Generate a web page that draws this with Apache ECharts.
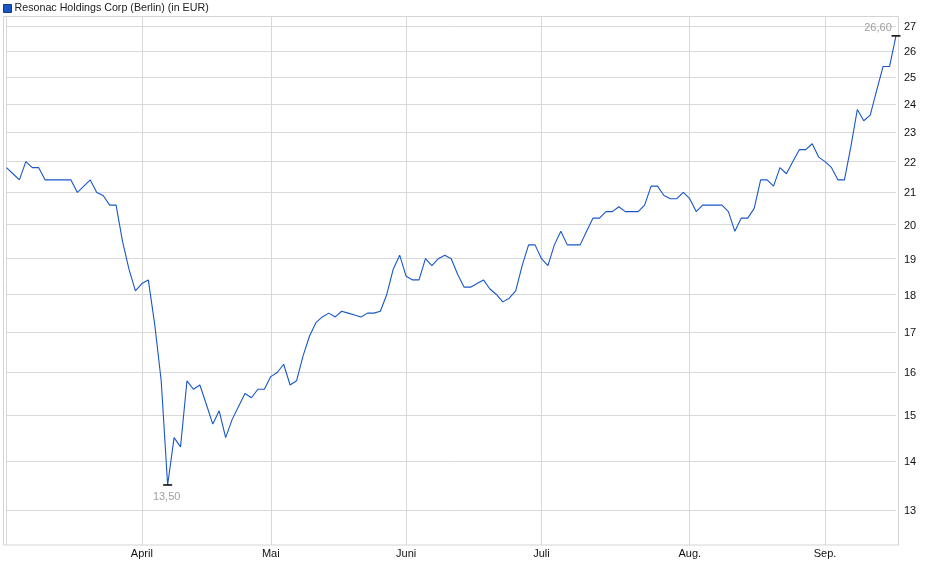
<!DOCTYPE html>
<html>
<head>
<meta charset="utf-8">
<title>Resonac Holdings Corp (Berlin)</title>
<script src="https://cdn.jsdelivr.net/npm/echarts@6/dist/echarts.min.js"></script>
<style>
  html, body { margin: 0; padding: 0; background: #fff; }
  #main { width: 940px; height: 579px; }
</style>
</head>
<body>
<div id="main"></div>
<script>
  // closing prices (EUR), one per trading day, grouped by month (2025)
  const monthNames = ['März', 'April', 'Mai', 'Juni', 'Juli', 'Aug.', 'Sep.'];
  const mar = [21.8, 21.6, 21.4, 22.0, 21.8, 21.8, 21.4, 21.4, 21.4, 21.4, 21.4, 21.0, 21.2, 21.4, 21.0, 20.9, 20.6, 20.6, 19.5, 18.7, 18.1];
  const apr = [18.3, 18.4, 17.2, 15.8, 13.5, 14.5, 14.3, 15.8, 15.6, 15.7, 15.25, 14.8, 15.1, 14.5, 14.9, 15.2, 15.5, 15.4, 15.6, 15.6];
  const may = [15.9, 16.0, 16.2, 15.7, 15.8, 16.4, 16.9, 17.25, 17.4, 17.5, 17.4, 17.55, 17.5, 17.45, 17.4, 17.5, 17.5, 17.55, 18.0, 18.7, 19.1];
  const jun = [18.5, 18.4, 18.4, 19.0, 18.8, 19.0, 19.1, 19.0, 18.55, 18.2, 18.2, 18.3, 18.4, 18.15, 18.0, 17.8, 17.9, 18.1, 18.8, 19.4, 19.4];
  const jul = [19.0, 18.8, 19.4, 19.8, 19.4, 19.4, 19.4, 19.8, 20.2, 20.2, 20.4, 20.4, 20.55, 20.4, 20.4, 20.4, 20.6, 21.2, 21.2, 20.9, 20.8, 20.8, 21.0];
  const aug = [20.8, 20.4, 20.6, 20.6, 20.6, 20.6, 20.4, 19.8, 20.2, 20.2, 20.5, 21.4, 21.4, 21.2, 21.8, 21.6, 22.0, 22.4, 22.4, 22.6, 22.15];
  const sep = [22.0, 21.8, 21.4, 21.4, 22.5, 23.8, 23.4, 23.6, 24.5, 25.4, 25.4, 26.6];
  const yTicks = [13, 14, 15, 16, 17, 18, 19, 20, 21, 22, 23, 24, 25, 26, 27];

  const months = [mar, apr, may, jun, jul, aug, sep];
  let categories = [];
  let prices = [];
  months.forEach(function (m, mi) {
    m.forEach(function (v, k) {
      categories.push(monthNames[mi] + '|' + k);
      prices.push(v);
    });
  });

  function isMonthStart(index, value) {
    return /\|0$/.test(value);
  }

  function fmt(v) {
    return v.toFixed(2).replace('.', ',');
  }

  const font = '"Liberation Sans", Arial, sans-serif';
  const myChart = echarts.init(document.getElementById('main'));

  const option = {
    animation: false,
    textStyle: { fontFamily: font },
    legend: {
      left: 0,
      top: 0,
      padding: [3, 3],
      icon: 'rect',
      itemWidth: 8,
      itemHeight: 8,
      itemGap: 5,
      itemStyle: { color: '#1a56c4', borderColor: '#163a80', borderWidth: 1 },
      textStyle: { fontSize: 10.7, color: '#222', fontFamily: font, padding: [0, 0, 0, -2] },
      data: ['Resonac Holdings Corp (Berlin) (in EUR)']
    },
    grid: { left: 6.5, right: 44, top: 16, bottom: 34 },
    graphic: [{
      type: 'rect',
      shape: { x: 3.5, y: 16.5, width: 895, height: 528.5 },
      style: { fill: 'none', stroke: '#d4d4d4', lineWidth: 1 },
      silent: true,
      z: -1
    }],
    xAxis: {
      type: 'category',
      data: categories,
      boundaryGap: false,
      axisLine: { show: false },
      axisTick: { show: false },
      axisLabel: {
        interval: function (index, value) {
          return index > 0 && isMonthStart(index, value);
        },
        formatter: function (value) {
          return value.split('|')[0];
        },
        color: '#111',
        fontSize: 11,
        margin: 3,
        fontFamily: font
      },
      splitLine: {
        show: true,
        interval: isMonthStart,
        lineStyle: { color: '#d9d9d9', width: 1 }
      }
    },
    yAxis: {
      type: 'log',
      position: 'right',
      min: 12.33,
      max: 27.41,
      axisLine: { show: false },
      axisTick: { show: false },
      axisLabel: { show: false },
      splitLine: { show: false }
    },
    series: [{
      name: 'Resonac Holdings Corp (Berlin) (in EUR)',
      type: 'line',
      data: prices,
      showSymbol: false,
      symbol: 'none',
      z: 3,
      lineStyle: { color: '#1857c8', width: 1.1 },
      itemStyle: { color: '#1a56c4' },
      markLine: {
        silent: true,
        symbol: 'none',
        z: 1,
        animation: false,
        lineStyle: { color: '#d9d9d9', width: 1, type: 'solid' },
        label: {
          position: 'end',
          distance: 8,
          color: '#111',
          fontSize: 11,
          fontFamily: font,
          offset: [0, 1],
          formatter: function (p) { return Math.round(p.value); }
        },
        emphasis: { disabled: true },
        data: yTicks.map(function (t) { return { yAxis: t }; })
      },
      markPoint: {
        silent: true,
        symbol: 'rect',
        symbolSize: [9, 1.5],
        itemStyle: { color: '#000' },
        data: [
          {
            type: 'min',
            label: {
              show: true, position: 'bottom', distance: 6, offset: [-1, 0],
              color: '#a0a0a0', fontSize: 11, fontFamily: font,
              formatter: function (p) { return fmt(p.value); }
            }
          },
          {
            type: 'max',
            label: {
              show: true, position: 'top', distance: 2, offset: [-18, 0],
              color: '#a0a0a0', fontSize: 11, fontFamily: font,
              formatter: function (p) { return fmt(p.value); }
            }
          }
        ]
      }
    }]
  };

  myChart.setOption(option);
</script>
</body>
</html>
